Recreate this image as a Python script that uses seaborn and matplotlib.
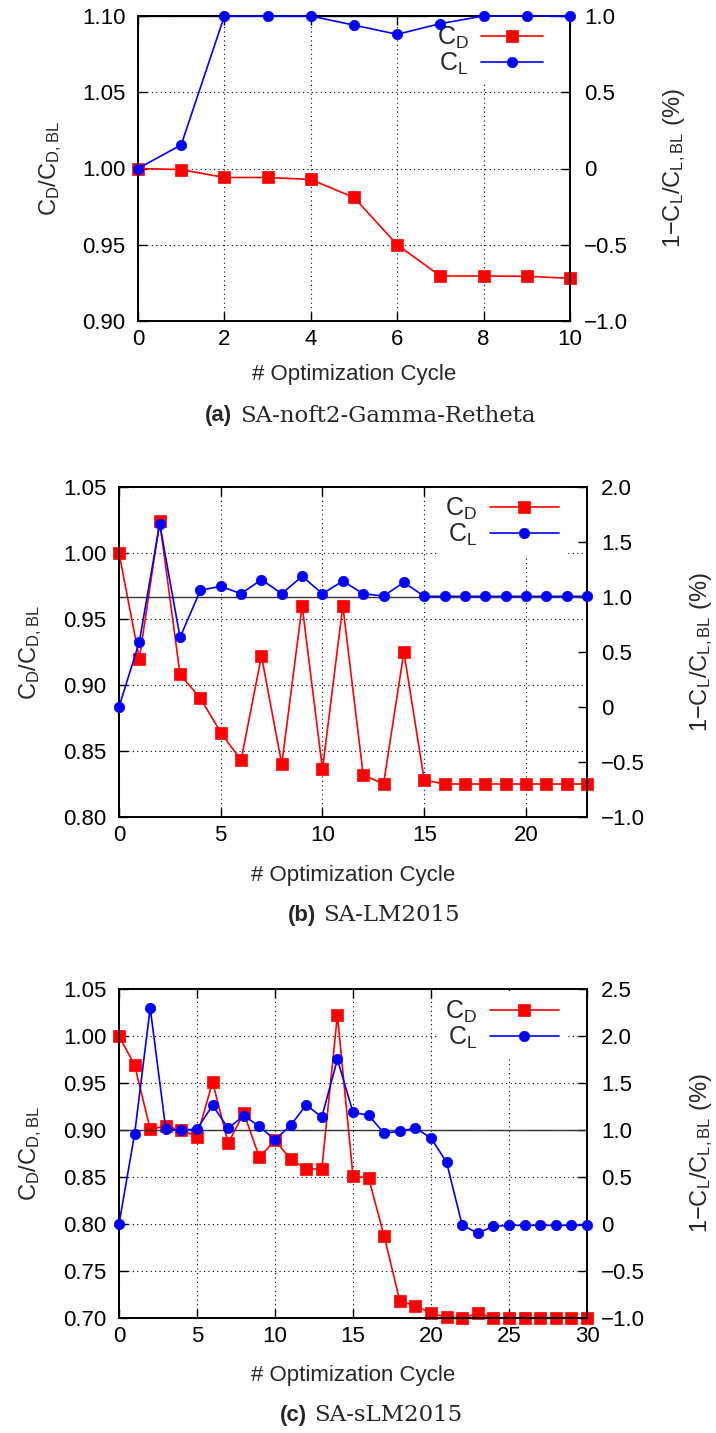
import matplotlib
matplotlib.use("Agg")
import matplotlib.pyplot as plt
import seaborn as sns
import numpy as np
from matplotlib.ticker import FuncFormatter, MultipleLocator

# ---------------- data ----------------
cycles_a = list(range(11))
cd_a = [1.000, 0.9993, 0.9941, 0.9941, 0.9928, 0.981, 0.950, 0.9295, 0.9295, 0.9293, 0.928]
cl_a = [0.0, 0.155, 1.0, 1.0, 1.0, 0.94, 0.88, 0.95, 1.0, 1.0, 1.0]

cycles_b = list(range(24))
cd_b = [1.000, 0.920, 1.024, 0.908, 0.890, 0.864, 0.843, 0.922, 0.840, 0.960, 0.836, 0.960,
        0.832, 0.825, 0.925, 0.828, 0.825, 0.825, 0.825, 0.825, 0.825, 0.825, 0.825, 0.825]
cl_b = [0.0, 0.594, 1.664, 0.633, 1.061, 1.097, 1.03, 1.158, 1.03, 1.188, 1.03, 1.145,
        1.03, 1.009, 1.133, 1.006, 1.006, 1.006, 1.006, 1.006, 1.006, 1.006, 1.006, 1.006]

cycles_c = list(range(31))
cd_c = [1.000, 0.969, 0.901, 0.904, 0.900, 0.893, 0.951, 0.886, 0.918, 0.871, 0.889, 0.869,
        0.8585, 0.8585, 1.022, 0.851, 0.849, 0.787, 0.718, 0.713, 0.705, 0.701, 0.700, 0.705,
        0.700, 0.700, 0.700, 0.700, 0.700, 0.700, 0.700]
cl_c = [0.0, 0.957, 2.298, 1.007, 1.0, 1.01, 1.262, 1.018, 1.152, 1.039, 0.894, 1.05,
        1.266, 1.138, 1.752, 1.188, 1.156, 0.965, 0.986, 1.021, 0.915, 0.656, -0.014, -0.096,
        -0.025, -0.014, -0.014, -0.014, -0.014, -0.014, -0.014]

legend_labels = [r"$C_D$", r"$C_L$"]
xlabel = "# Optimization Cycle"
ylabel_left = r"$C_D/C_{D,BL}$"
ylabel_right = r"$1{-}C_L/C_{L,BL}$ (%)"
captions = [("(a)", "SA-noft2-Gamma-Retheta"), ("(b)", "SA-LM2015"), ("(c)", "SA-sLM2015")]

# ---------------- style ----------------
sns.set_style("white")
plt.rcParams["font.family"] = ["Liberation Sans", "DejaVu Sans"]
plt.rcParams["mathtext.default"] = "regular"
plt.rcParams["axes.unicode_minus"] = True

W, H = 716, 1433
fig = plt.figure(figsize=(W / 100, H / 100), dpi=100)

RED = "#ff0000"
BLUE = "#0000ff"
FS = 16


def fmt_left(v, p):
    return f"{v:.2f}"


def fmt_right(v, p):
    if abs(v) < 1e-9:
        return "0"
    return f"{v:.1f}".replace("-", "\u2212")


def panel(box, x, cd, cl, xlim, xstep, yl, ystep_l, yr, ystep_r, cap, cap_pos,
          ylab_lx, ylab_rx, xlab_y, leg_anchor, handlelen):
    l, r, t, b = box
    ax = fig.add_axes([l / W, 1 - b / H, (r - l) / W, (b - t) / H])
    ax2 = ax.twinx()
    hpx = b - t
    wpx = r - l

    sns.lineplot(x=x, y=cd, ax=ax, color=RED, marker="s", markersize=8,
                 markeredgecolor=RED, markeredgewidth=0.5, linewidth=1.2,
                 errorbar=None, legend=False, clip_on=False, zorder=3)
    sns.lineplot(x=x, y=cl, ax=ax2, color=BLUE, marker="o", markersize=7.5,
                 markeredgecolor=BLUE, markeredgewidth=0.5, linewidth=1.2,
                 errorbar=None, legend=False, clip_on=False, zorder=3)
    h1 = ax.lines[0]
    h2 = ax2.lines[0]
    ax2.axhline(1.0, color="#333333", linewidth=1.0, zorder=2)

    ax.set_xlim(*xlim)
    ax.set_ylim(*yl)
    ax2.set_ylim(*yr)
    ax.xaxis.set_major_locator(MultipleLocator(xstep))
    ax.yaxis.set_major_locator(MultipleLocator(ystep_l))
    ax2.yaxis.set_major_locator(MultipleLocator(ystep_r))
    ax.yaxis.set_major_formatter(FuncFormatter(fmt_left))
    ax2.yaxis.set_major_formatter(FuncFormatter(fmt_right))

    ax.grid(True, color="black", linestyle=(0, (1, 3)), linewidth=0.8)
    ax.tick_params(axis="x", direction="in", length=6.5, width=1, top=True,
                   bottom=True, labelsize=FS, pad=6, colors="black")
    ax.tick_params(axis="y", direction="in", length=6.5, width=1, left=True,
                   right=False, labelsize=FS, pad=9, colors="black")
    ax2.tick_params(axis="y", direction="in", length=6.5, width=1, left=False,
                    right=True, labelsize=FS, pad=10, colors="black")
    for a in (ax, ax2):
        for s in a.spines.values():
            s.set_visible(True)
            s.set_color("black")
            s.set_linewidth(1.3)
            s.set_zorder(2.6)

    ax.set_xlabel(xlabel, fontsize=FS)
    ax.xaxis.set_label_coords(0.5, (b - xlab_y) / hpx)
    ax.set_ylabel(ylabel_left, fontsize=17)
    ax.yaxis.set_label_coords((ylab_lx - l) / wpx, 0.5)
    ax2.set_ylabel(ylabel_right, fontsize=17)
    ax2.yaxis.set_label_coords((ylab_rx - l) / wpx, 0.5)

    leg = ax2.legend([h1, h2], legend_labels, loc="upper right",
                     bbox_to_anchor=((leg_anchor[0] - l) / wpx, (b - leg_anchor[1]) / hpx),
                     markerfirst=False, frameon=True, fontsize=18,
                     handlelength=handlelen, handletextpad=0.5, labelspacing=0.0,
                     borderpad=0.3, borderaxespad=0, fancybox=False)
    fr = leg.get_frame()
    fr.set_edgecolor("none")
    fr.set_facecolor("white")
    fr.set_alpha(1)
    leg.set_zorder(2.2)

    bx, tx, cy = cap_pos
    fig.text(bx / W, 1 - cy / H, cap[0], ha="right", va="center", fontsize=16,
             fontweight="bold", family=["Liberation Sans", "DejaVu Sans"])
    fig.text(tx / W, 1 - cy / H, cap[1], ha="left", va="center", fontsize=16.5,
             family=["DejaVu Serif"])
    return ax, ax2


panel((138, 570, 16, 321), cycles_a, cd_a, cl_a, (0, 10), 2, (0.90, 1.10), 0.05,
      (-1.0, 1.0), 0.5, captions[0], (232, 240, 416), 64, 661, 364,
      (550, 17), 2.45)
panel((119, 587, 487, 817), cycles_b, cd_b, cl_b, (0, 23), 5, (0.80, 1.05), 0.05,
      (-1.0, 2.0), 0.5, captions[1], (316, 323, 915), 44, 688, 865,
      (566, 488), 2.75)
panel((119, 587, 989, 1318), cycles_c, cd_c, cl_c, (0, 30), 5, (0.70, 1.05), 0.05,
      (-1.0, 2.5), 0.5, captions[2], (307, 314, 1415), 44, 688, 1365,
      (566, 991), 2.75)

fig.savefig("out.png", dpi=100)
